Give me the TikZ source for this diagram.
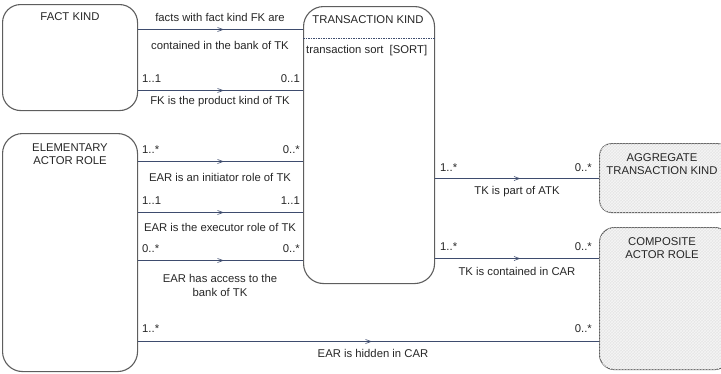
\documentclass[tikz,border=0pt]{standalone}
\usepackage{fontspec}
\setmainfont{Liberation Sans}
\usetikzlibrary{arrows.meta,decorations.markings,patterns}
\definecolor{lnc}{HTML}{3E4C6E}
\definecolor{bxc}{HTML}{5E5E5E}
\definecolor{shd}{HTML}{E6E6E6}
\tikzset{
  x=1pt,y=-1pt,
  box/.style={draw=bxc,line width=1.1pt,fill=white,anchor=north west,inner sep=0pt},
  gbox/.style={box,fill=shd,postaction={pattern=crosshatch,pattern color=white!60!shd}},
  ttl/.style={font=\fontsize{11.3}{13}\selectfont,align=center,inner sep=0pt,text=black!85},
  lbl/.style={font=\fontsize{11.3}{14}\selectfont,inner sep=0pt,text=black!85,align=center},
  rel/.style={draw=lnc,line width=0.8pt,postaction={decorate},
    decoration={markings,mark=at position 0.5 with {\draw[lnc,line width=0.6pt] (-3,2.5) -- (2.5,0.5) -- (-3,-1.5);}}},
}
\begin{document}
\begin{tikzpicture}
\useasboundingbox (0,0) rectangle (721,373);
\begin{scope}
\clip (0,0) rectangle (721,373);
% boxes
\node[box,rounded corners=18pt,minimum width=135pt,minimum height=106pt] (fk) at (2,4) {};
\node[box,rounded corners=20pt,minimum width=131pt,minimum height=277pt] (tk) at (303,6) {};
\node[box,rounded corners=20pt,minimum width=135pt,minimum height=238pt] (ear) at (2,133) {};
\node[gbox,rounded corners=12pt,minimum width=130pt,minimum height=69pt] (atk) at (599,143) {};
\node[gbox,rounded corners=15pt,minimum width=130pt,minimum height=142pt] (car) at (599,227) {};
\end{scope}
% titles
\node[ttl] (fkt) at (70,17) {FACT KIND};
\node[ttl] (tkt) at (368,20) {TRANSACTION KIND};
\draw[lnc,dash pattern=on 1.5pt off 1pt,line width=0.6pt] (tk.west |- 0,38) -- (tk.east |- 0,38);
\node[lbl,anchor=west] (tks) at (306,51) {transaction sort\ \ [SORT]};
\node[ttl] (eart) at (70,154) {ELEMENTARY\\ACTOR ROLE};
\node[ttl] (atkt) at (662,164) {AGGREGATE\\TRANSACTION KIND};
\node[ttl] (cart) at (662,248) {COMPOSITE\\ACTOR ROLE};
% relations
\draw[rel] (fk.east |- 0,29) -- (tk.west |- 0,29);
\node[lbl] (r1a) at (220,17) {facts with fact kind FK are};
\node[lbl] (r1b) at (220,45) {contained in the bank of TK};

\draw[rel] (fk.east |- 0,90) -- (tk.west |- 0,90);
\node[lbl,anchor=west] (r2l) at (142,79) {1..1};
\node[lbl,anchor=east] (r2r) at (300,79) {0..1};
\node[lbl] (r2) at (220,102) {FK is the product kind of TK};

\draw[rel] (ear.east |- 0,161) -- (tk.west |- 0,161);
\node[lbl,anchor=west] (r3l) at (142,150) {1..*};
\node[lbl,anchor=east] (r3r) at (300,150) {0..*};
\node[lbl] (r3) at (220,177) {EAR is an initiator role of TK};

\draw[rel] (ear.east |- 0,212) -- (tk.west |- 0,212);
\node[lbl,anchor=west] (r4l) at (142,201) {1..1};
\node[lbl,anchor=east] (r4r) at (300,201) {1..1};
\node[lbl] (r4) at (220,227) {EAR is the executor role of TK};

\draw[rel] (ear.east |- 0,260) -- (tk.west |- 0,260);
\node[lbl,anchor=west] (r5l) at (142,249) {0..*};
\node[lbl,anchor=east] (r5r) at (300,249) {0..*};
\node[lbl] (r5) at (220,285) {EAR has access to the\\bank of TK};

\draw[rel] (tk.east |- 0,178) -- (atk.west |- 0,178);
\node[lbl,anchor=west] (r6l) at (440,168) {1..*};
\node[lbl,anchor=east] (r6r) at (592,168) {0..*};
\node[lbl] (r6) at (517,192) {TK is part of ATK};

\draw[rel] (tk.east |- 0,258) -- (car.west |- 0,258);
\node[lbl,anchor=west] (r7l) at (440,247) {1..*};
\node[lbl,anchor=east] (r7r) at (592,247) {0..*};
\node[lbl] (r7) at (517,271) {TK is contained in CAR};

\draw[rel] (ear.east |- 0,341) -- (car.west |- 0,341);
\node[lbl,anchor=west] (r8l) at (142,329) {1..*};
\node[lbl,anchor=east] (r8r) at (592,329) {0..*};
\node[lbl] (r8) at (373,353) {EAR is hidden in CAR};
\end{tikzpicture}
\end{document}
